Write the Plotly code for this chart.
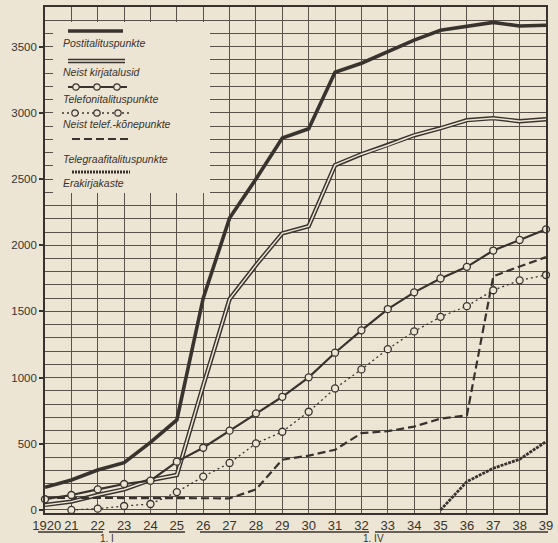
import plotly.graph_objects as go

# ---------------- data ----------------
years = list(range(1920, 1940))
year_labels = ["\u00a01920"] + [str(y)[2:] for y in range(1921, 1940)]

postitalituspunkte = [171, 226, 302, 357, 510, 680, 1600, 2205, 2500, 2810, 2880, 3307,
                      3375, 3460, 3550, 3624, 3654, 3684, 3656, 3662]
kirjatalusid = [38, 63, 113, 156, 226, 264, 940, 1593, 1850, 2090, 2144, 2605,
                2688, 2756, 2831, 2884, 2945, 2960, 2937, 2952]
telefonitalituspunkte = [81, 113, 156, 196, 221, 365, 470, 599, 730, 855, 1002, 1188,
                         1357, 1518, 1644, 1749, 1837, 1960, 2040, 2120]
telef_konepunkte = [None, 0, 10, 30, 45, 135, 252, 355, 503, 591, 742, 918,
                    1062, 1215, 1349, 1459, 1540, 1660, 1735, 1775]
telegraafitalituspunkte = [90, 92, 92, 90, 90, 88, 88, 88, 155, 380, 410, 455,
                           580, 595, 630, 690, 715, 1765, 1840, 1910]
erakirjakaste = [None] * 15 + [0, 214, 315, 383, 516]

y_tick_values = [0, 500, 1000, 1500, 2000, 2500, 3000, 3500]

legend_names = ["Postitalituspunkte", "Neist kirjatalusid", "Telefonitalituspunkte",
                "Neist telef.-kõnepunkte", "Telegraafitalituspunkte", "Erakirjakaste"]

# ---------------- style ----------------
BG = "#ede5d3"
INK = "#38332e"
GRID = "#59524a"
FONT = "Liberation Sans"
NARROW = "Liberation Sans Narrow, Arial Narrow, Liberation Sans"

W, H = 558, 543
ML, MR, MT, MB = 45, 12, 7, 30
X_RANGE = [1920, 1939]
Y_RANGE = [-23, 3800]
PW, PH = W - ML - MR, H - MT - MB


def dx(px):
    """pixel x -> data x (for decoration placement only)"""
    return X_RANGE[0] + (px - ML) * (X_RANGE[1] - X_RANGE[0]) / PW


def dy(py):
    """pixel y -> data y (for decoration placement only)"""
    return Y_RANGE[0] + (MT + PH - py) * (Y_RANGE[1] - Y_RANGE[0]) / PH


def paper_y(py):
    return (MT + PH - py) / PH


def paper_x(px):
    return (px - ML) / PW


fig = go.Figure()

# Postitalituspunkte - thick solid
fig.add_trace(go.Scatter(x=years, y=postitalituspunkte, mode="lines",
                         line=dict(color=INK, width=3.6), name=legend_names[0],
                         cliponaxis=False))
# Neist kirjatalusid - double line
fig.add_trace(go.Scatter(x=years, y=kirjatalusid, mode="lines",
                         line=dict(color=INK, width=4.4), name=legend_names[1],
                         cliponaxis=False))
fig.add_trace(go.Scatter(x=years, y=kirjatalusid, mode="lines",
                         line=dict(color=BG, width=1.5), showlegend=False,
                         hoverinfo="skip", cliponaxis=False))
# Telegraafitalituspunkte - dashed
fig.add_trace(go.Scatter(x=years, y=telegraafitalituspunkte, mode="lines",
                         line=dict(color=INK, width=2.2, dash="8px,4px"),
                         name=legend_names[4], cliponaxis=False))
# Erakirjakaste - heavy dotted
fig.add_trace(go.Scatter(x=years, y=erakirjakaste, mode="lines",
                         line=dict(color=INK, width=2.8, dash="3px,1px"),
                         name=legend_names[5], cliponaxis=False))
# Neist telef.-kõnepunkte - dotted with open circles
fig.add_trace(go.Scatter(x=years, y=telef_konepunkte, mode="lines+markers",
                         line=dict(color=INK, width=1.3, dash="2px,3px"),
                         marker=dict(symbol="circle", size=7, color=BG,
                                     line=dict(color=INK, width=1.3)),
                         name=legend_names[3], cliponaxis=False))
# Telefonitalituspunkte - solid with open circles
fig.add_trace(go.Scatter(x=years, y=telefonitalituspunkte, mode="lines+markers",
                         line=dict(color=INK, width=2.2),
                         marker=dict(symbol="circle", size=7, color=BG,
                                     line=dict(color=INK, width=1.3)),
                         name=legend_names[2], cliponaxis=False))

# ---------------- hand-drawn style legend ----------------
shapes = []
shapes.append(dict(type="rect", xref="x", yref="y", layer="above",
                   x0=dx(53), x1=dx(210), y0=dy(193), y1=dy(22),
                   fillcolor=BG, line=dict(width=0)))


def hline(x0, x1, y, width, dash="solid", color=INK):
    shapes.append(dict(type="line", xref="x", yref="y", layer="above",
                       x0=dx(x0), x1=dx(x1), y0=dy(y), y1=dy(y),
                       line=dict(color=color, width=width, dash=dash)))


def circ(x, y):
    shapes.append(dict(type="circle", xref="x", yref="y", layer="above",
                       xsizemode="pixel", ysizemode="pixel",
                       xanchor=dx(x), yanchor=dy(y), x0=-3.2, x1=3.2, y0=-3.2, y1=3.2,
                       fillcolor=BG, line=dict(color=INK, width=1.2)))


hline(68, 123, 31, 3.6)
hline(68, 125, 61, 4.4)
hline(68, 125, 61, 1.5, color=BG)
hline(68, 127, 87, 2.2)
for cx in (76, 97, 117):
    circ(cx, 87)
hline(62, 130, 113, 1.3, dash="2px,3px")
for cx in (75, 97, 118):
    circ(cx, 113)
hline(72, 130, 139, 2.2, dash="8px,4px")
hline(72, 130, 172, 2.8, dash="2px,1px")

legend_text_y = [43, 72, 99, 124, 159, 183]
annotations = []
for name, ty in zip(legend_names, legend_text_y):
    annotations.append(dict(text=name, xref="paper", yref="paper",
                            x=paper_x(61), y=paper_y(ty), xanchor="left", yanchor="middle",
                            showarrow=False,
                            font=dict(family=NARROW, size=10.5, color=INK, style="italic")))

# ---------------- period brackets under the x axis ----------------
for x0, x1 in [(38, 103), (109, 185), (200, 369), (375, 548)]:
    shapes.append(dict(type="line", xref="paper", yref="paper", layer="above",
                       x0=paper_x(x0), x1=paper_x(x1), y0=paper_y(532), y1=paper_y(532),
                       line=dict(color=INK, width=1.6)))
for txt, tx in [("1. I", 107), ("1. IV", 373)]:
    annotations.append(dict(text=txt, xref="paper", yref="paper",
                            x=paper_x(tx), y=paper_y(538), xanchor="center", yanchor="middle",
                            showarrow=False, font=dict(family=FONT, size=10, color=INK)))

fig.update_layout(
    width=W, height=H,
    margin=dict(l=ML, r=MR, t=MT, b=MB),
    paper_bgcolor=BG, plot_bgcolor=BG,
    showlegend=False,
    shapes=shapes, annotations=annotations,
    font=dict(family=FONT, color=INK),
)
fig.update_xaxes(range=X_RANGE, tickvals=years, ticktext=year_labels, tickangle=0,
                 showgrid=True, gridcolor=GRID, gridwidth=1.2,
                 showline=True, mirror=True, linecolor=INK, linewidth=1.6,
                 ticks="", zeroline=False, automargin=False,
                 tickfont=dict(family=FONT, size=13, color=INK))
fig.update_yaxes(range=Y_RANGE, tickvals=y_tick_values,
                 showgrid=True, gridcolor=GRID, gridwidth=1.2,
                 minor=dict(dtick=100, tick0=0, showgrid=True, gridcolor=GRID, gridwidth=1.2),
                 showline=True, mirror=True, linecolor=INK, linewidth=1.6,
                 ticks="outside", ticklen=4, tickcolor=INK, tickwidth=1.6,
                 zeroline=False, automargin=False,
                 tickfont=dict(family=FONT, size=11.5, color=INK))

fig.write_html("out.html", config={"displayModeBar": False},
               post_script="document.body.style.margin='0px';"
                           "document.body.style.background='" + BG + "';")
